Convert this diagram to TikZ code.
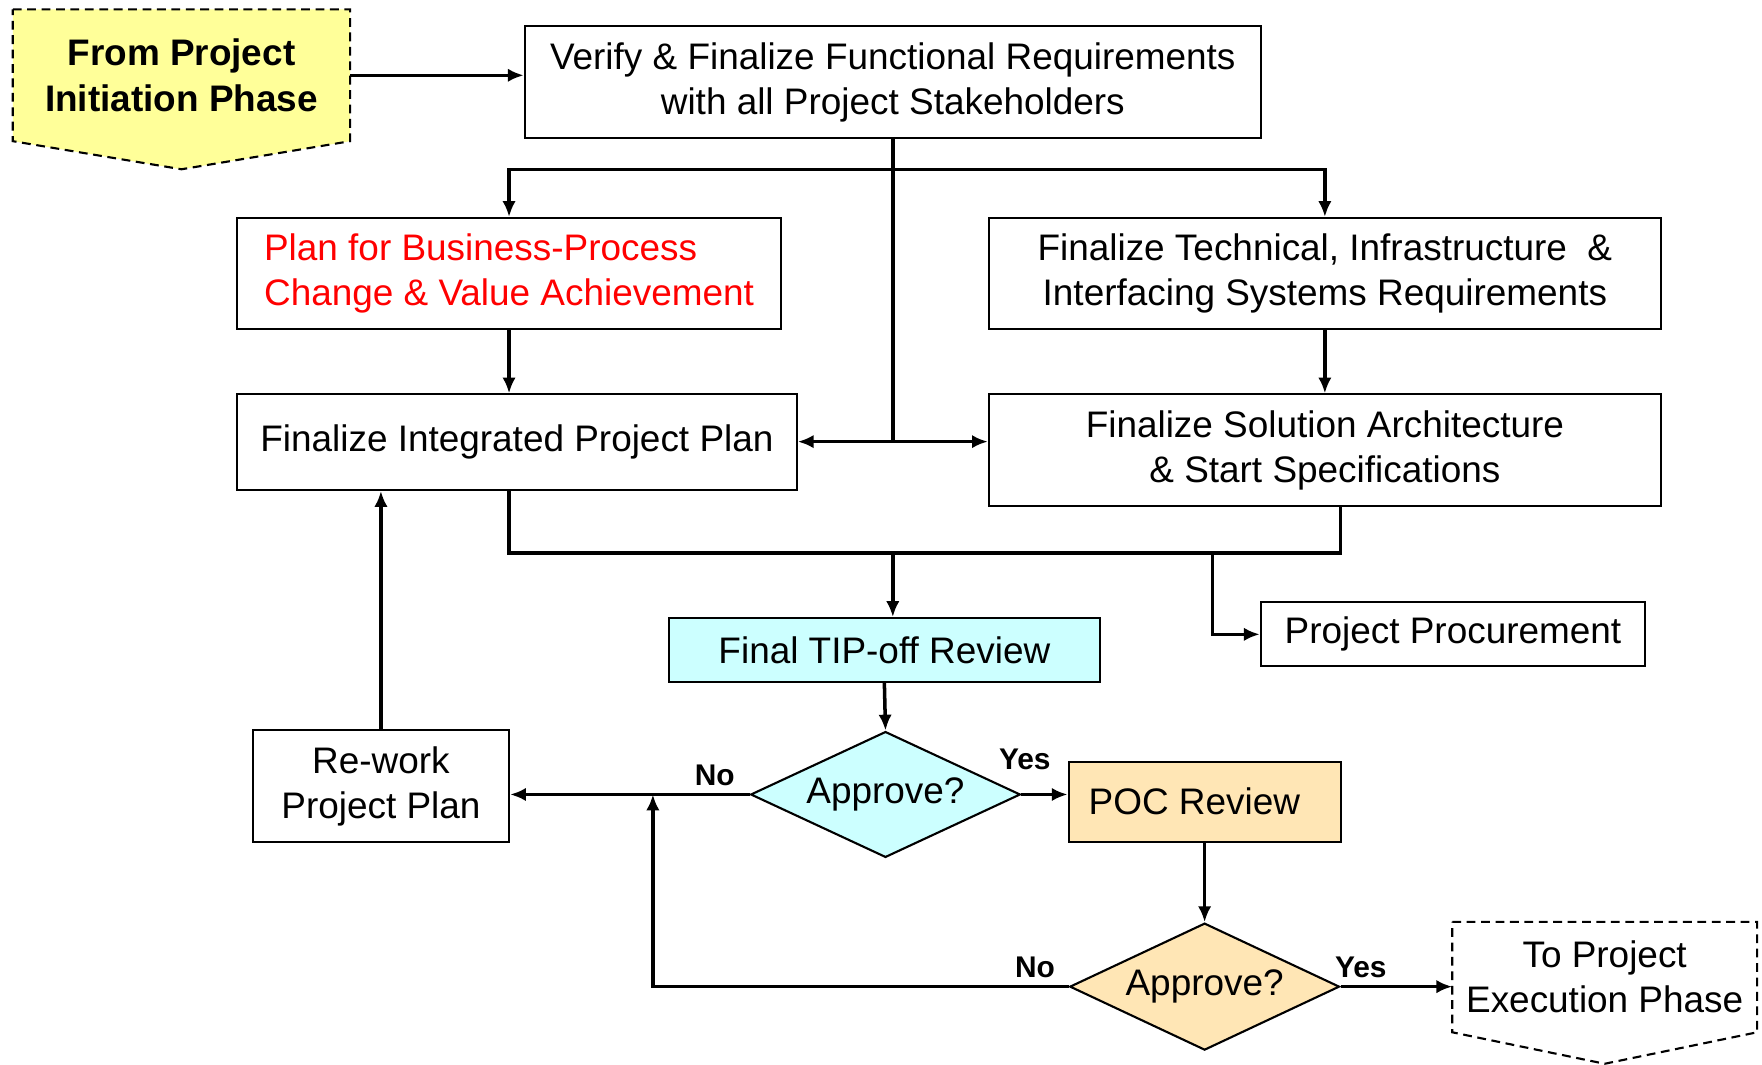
\documentclass[tikz,border=0pt]{standalone}
\usepackage{fontspec}
\setmainfont{Liberation Sans}
\usetikzlibrary{shapes.geometric,backgrounds,arrows.meta}

\newcommand\pxu{0.011237cm}
\definecolor{paleyellow}{HTML}{FFFF99}
\definecolor{palecyan}{HTML}{CCFFFF}
\definecolor{paleorange}{HTML}{FFE6B5}

\tikzset{
  >={Latex[length=4.5pt, width=3.8pt]},
  box/.style={shape=rectangle, draw=black, line width=0.6pt, align=center, inner sep=0pt,
    font=\fontsize{10.5}{12.8}\selectfont},
  decision/.style={shape=diamond, draw=black, line width=0.6pt, inner sep=0pt, aspect=2.14,
    font=\fontsize{10.5}{12.8}\selectfont},
  phase/.style={shape=rectangle, align=center, inner sep=0pt,
    font=\fontsize{10.5}{12.8}\selectfont},
  phaseline/.style={line width=0.6pt, dash pattern=on 2.5pt off 1.6pt},
  flow/.style={line width=1pt},
  yesno/.style={font=\bfseries\fontsize{8.5}{10}\selectfont, inner sep=0pt},
}

\begin{document}
\begin{tikzpicture}[x=\pxu, y=-\pxu]
  \useasboundingbox (0,0) rectangle (1568,947);

  % entry and exit
  \node (from) [phase, minimum width={299*\pxu}, minimum height={116*\pxu}] at (161.5,67) {\bfseries From Project\\\bfseries Initiation Phase};
  \node (to) [phase, minimum width={270*\pxu}, minimum height={97*\pxu}] at (1428,869.5) {To Project\\Execution Phase};
  \begin{scope}[on background layer]
    \draw [phaseline, fill=paleyellow] (from.north west) -- (from.north east) -- (from.south east)
      -- ([yshift={-25*\pxu}]from.south) -- (from.south west) -- cycle;
    \draw [phaseline, fill=white] (to.north west) -- (to.north east) -- (to.south east)
      -- ([yshift={-28*\pxu}]to.south) -- (to.south west) -- cycle;
  \end{scope}

  % planning boxes
  \node (verify) [box, minimum width={655*\pxu}, minimum height={100*\pxu}] at (794.5,73) {Verify \& Finalize Functional Requirements\\with all Project Stakeholders};
  \node (plan) [box, text=red, align=left, minimum width={484*\pxu}, minimum height={99*\pxu}] at (453,243.5) {Plan for Business-Process\\Change \& Value Achievement};
  \node (tech) [box, minimum width={598*\pxu}, minimum height={99*\pxu}] at (1179,243.5) {Finalize Technical, Infrastructure~~\&\\Interfacing Systems Requirements};
  \node (integ) [box, minimum width={498*\pxu}, minimum height={85*\pxu}] at (460,393.5) {Finalize Integrated Project Plan};
  \node (sol) [box, minimum width={598*\pxu}, minimum height={99*\pxu}] at (1179,400.5) {Finalize Solution Architecture\\\& Start Specifications};
  \node (tip) [box, fill=palecyan, minimum width={384*\pxu}, minimum height={57*\pxu}] at (787,578.5) {Final TIP-off Review};
  \node (proc) [box, minimum width={342*\pxu}, minimum height={57*\pxu}] at (1293,564.5) {Project Procurement};

  % reviews
  \node (dec1) [decision, fill=palecyan, minimum width={240*\pxu}, minimum height={112*\pxu}] at (788,707) {Approve?};
  \node (rework) [box, minimum width={228*\pxu}, minimum height={99*\pxu}] at (339,699.5) {Re-work\\Project Plan};
  \node (poc) [box, fill=paleorange, minimum width={242*\pxu}, minimum height={71*\pxu}] at (1072,713.5) {POC Review~~};
  \node (dec2) [decision, fill=paleorange, minimum width={240*\pxu}, minimum height={113*\pxu}] at (1072,878) {Approve?};

  \node (no1) [yesno] at (636,690) {No};
  \node (yes1) [yesno] at (912,676) {Yes};
  \node (no2) [yesno] at (921,861) {No};
  \node (yes2) [yesno] at (1211,861) {Yes};

  % connectors
  \coordinate (split) at (794.5,151);
  \coordinate (hub) at (794.5,393);
  \coordinate (join) at (794.5,492);
  \coordinate (procsplit) at (1079,492);
  \coordinate (solout) at (1193,450);
  \coordinate (back) at (581,707);

  \draw [flow, ->] (from.east) -- (from.east -| verify.west);
  \draw [flow] (verify.south) -- (hub);
  \draw [flow, ->] (split) -| (plan.north);
  \draw [flow, ->] (split) -| (tech.north);
  \draw [flow, ->] (hub) -- (hub -| integ.east);
  \draw [flow, ->] (hub) -- (hub -| sol.west);
  \draw [flow, ->] (plan.south) -- (plan.south |- integ.north);
  \draw [flow, ->] (tech.south) -- (sol.north);
  \draw [flow] (integ.south -| plan.south) |- (join) -| (solout);
  \draw [flow, ->] (join) -- (join |- tip.north);
  \draw [flow, ->] (procsplit) |- (proc.west);
  \draw [flow, ->] (tip.south) -- (dec1.north);
  \draw [flow, ->] (dec1.east) -- (dec1.east -| poc.west);
  \draw [flow, ->] (dec1.west) -- (dec1.west -| rework.east);
  \draw [flow, ->] (rework.north) -- (rework.north |- integ.south);
  \draw [flow, ->] (poc.south) -- (dec2.north);
  \draw [flow, ->] (dec2.west) -| (back);
  \draw [flow, ->] (dec2.east) -- (dec2.east -| to.west);
\end{tikzpicture}
\end{document}
